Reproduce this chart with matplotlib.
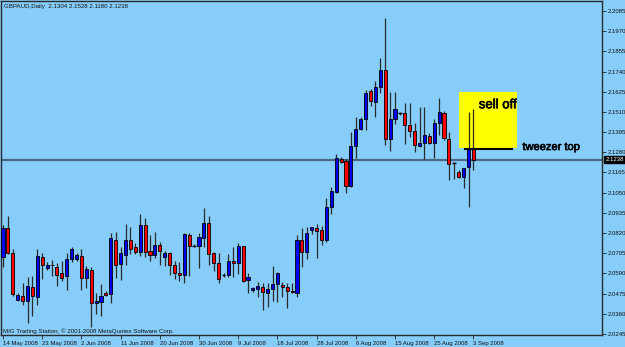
import matplotlib
matplotlib.use('Agg')
import matplotlib.pyplot as plt
import matplotlib.patheffects as pe
from matplotlib.patches import Rectangle

# GBPAUD daily bars, 14 May 2008 - 3 Sep 2008
opens = [2.0683, 2.0848, 2.0704, 2.0438, 2.0461, 2.0434, 2.0514, 2.0457, 2.0681, 2.0619,
         2.0637, 2.0624, 2.0594, 2.0575, 2.0670, 2.0670, 2.0689, 2.0562, 2.0609, 2.0419,
         2.0428, 2.0476, 2.0472, 2.0780, 2.0643, 2.0695, 2.0780, 2.0742, 2.0713, 2.0864,
         2.0719, 2.0693, 2.0750, 2.0685, 2.0708, 2.0638, 2.0594, 2.0581, 2.0810, 2.0744,
         2.0748, 2.0793, 2.0875, 2.0708, 2.0651, 2.0581, 2.0582, 2.0659, 2.0647, 2.0746,
         2.0552, 2.0495, 2.0501, 2.0514, 2.0480, 2.0501, 2.0529, 2.0524, 2.0514, 2.0491,
         2.0480, 2.0780, 2.0710, 2.0837, 2.0850, 2.0835, 2.0778, 2.0966, 2.1055, 2.1243,
         2.1232, 2.1088, 2.1316, 2.1411, 2.1468, 2.1631, 2.1568, 2.1654, 2.1749, 2.1354,
         2.1468, 2.1502, 2.1502, 2.1434, 2.1400, 2.1316, 2.1335, 2.1375, 2.1335, 2.1445,
         2.1506, 2.1356, 2.1217, 2.1169, 2.1141, 2.1194, 2.1304]
highs = [2.0866, 2.0917, 2.0729, 2.0478, 2.0537, 2.0569, 2.0575, 2.0727, 2.0708, 2.0656,
         2.0664, 2.0647, 2.0662, 2.0704, 2.0738, 2.0704, 2.0730, 2.0632, 2.0628, 2.0480,
         2.0529, 2.0491, 2.0822, 2.0827, 2.0742, 2.0871, 2.0852, 2.0761, 2.0928, 2.0904,
         2.0809, 2.0827, 2.0770, 2.0719, 2.0713, 2.0660, 2.0656, 2.0818, 2.0818, 2.0757,
         2.0822, 2.0961, 2.0917, 2.0713, 2.0704, 2.0594, 2.0700, 2.0742, 2.0761, 2.0748,
         2.0594, 2.0510, 2.0542, 2.0537, 2.0537, 2.0632, 2.0599, 2.0542, 2.0537, 2.0533,
         2.0809, 2.0847, 2.0856, 2.0856, 2.0871, 2.0860, 2.1018, 2.1084, 2.1270, 2.1255,
         2.1243, 2.1397, 2.1479, 2.1479, 2.1635, 2.1639, 2.1686, 2.1816, 2.2043, 2.1625,
         2.1625, 2.1510, 2.1559, 2.1563, 2.1445, 2.1540, 2.1540, 2.1388, 2.1468, 2.1588,
         2.1517, 2.1396, 2.1226, 2.1179, 2.1192, 2.1511, 2.1528]
lows = [2.0626, 2.0700, 2.0461, 2.0432, 2.0410, 2.0309, 2.0349, 2.0410, 2.0556, 2.0609,
        2.0575, 2.0518, 2.0546, 2.0495, 2.0656, 2.0662, 2.0495, 2.0505, 2.0286, 2.0358,
        2.0347, 2.0461, 2.0419, 2.0562, 2.0552, 2.0638, 2.0700, 2.0700, 2.0689, 2.0681,
        2.0662, 2.0677, 2.0638, 2.0632, 2.0581, 2.0556, 2.0548, 2.0537, 2.0575, 2.0738,
        2.0619, 2.0742, 2.0638, 2.0602, 2.0537, 2.0571, 2.0571, 2.0571, 2.0586, 2.0542,
        2.0476, 2.0485, 2.0455, 2.0381, 2.0396, 2.0434, 2.0428, 2.0455, 2.0390, 2.0476,
        2.0455, 2.0628, 2.0670, 2.0814, 2.0675, 2.0750, 2.0769, 2.0928, 2.1050, 2.1217,
        2.1050, 2.1084, 2.1246, 2.1407, 2.1407, 2.1544, 2.1479, 2.1616, 2.1321, 2.1289,
        2.1441, 2.1494, 2.1327, 2.1369, 2.1283, 2.1312, 2.1240, 2.1327, 2.1246, 2.1378,
        2.1350, 2.1122, 2.1126, 2.1132, 2.1075, 2.0966, 2.1180]
closes = [2.0848, 2.0708, 2.0471, 2.0465, 2.0434, 2.0518, 2.0461, 2.0689, 2.0636, 2.0636,
          2.0636, 2.0579, 2.0565, 2.0670, 2.0727, 2.0693, 2.0562, 2.0613, 2.0419, 2.0434,
          2.0461, 2.0465, 2.0791, 2.0638, 2.0704, 2.0780, 2.0730, 2.0713, 2.0867, 2.0713,
          2.0693, 2.0750, 2.0719, 2.0708, 2.0638, 2.0590, 2.0579, 2.0812, 2.0748, 2.0744,
          2.0797, 2.0878, 2.0700, 2.0651, 2.0556, 2.0581, 2.0659, 2.0647, 2.0746, 2.0548,
          2.0569, 2.0505, 2.0520, 2.0484, 2.0501, 2.0528, 2.0594, 2.0510, 2.0491, 2.0484,
          2.0780, 2.0710, 2.0818, 2.0852, 2.0833, 2.0778, 2.0970, 2.1059, 2.1246, 2.1226,
          2.1088, 2.1316, 2.1413, 2.1468, 2.1620, 2.1574, 2.1654, 2.1749, 2.1354, 2.1468,
          2.1528, 2.1502, 2.1434, 2.1400, 2.1320, 2.1335, 2.1377, 2.1335, 2.1445, 2.1510,
          2.1360, 2.1211, 2.1217, 2.1137, 2.1189, 2.1297, 2.1238]

date_labels = ['14 May 2008', '23 May 2008', '2 Jun 2008', '11 Jun 2008', '20 Jun 2008',
               '30 Jun 2008', '9 Jul 2008', '18 Jul 2008', '28 Jul 2008', '6 Aug 2008',
               '15 Aug 2008', '25 Aug 2008', '3 Sep 2008']
price_ticks = [2.0245, 2.0360, 2.0475, 2.0590, 2.0705, 2.0820, 2.0935, 2.1050, 2.1165,
               2.1280, 2.1395, 2.1510, 2.1625, 2.1740, 2.1855, 2.1970, 2.2085]
last_price = 2.1238
header = 'GBPAUD,Daily  2.1304 2.1528 2.1180 2.1238'

plt.rcParams['font.family'] = ['Liberation Sans', 'DejaVu Sans']
bg = '#87CDFA'

fig = plt.figure(figsize=(6.25, 3.47), dpi=100, facecolor=bg)
ax = fig.add_axes([1 / 625, 12 / 347, 601 / 625, 334 / 347])
ax.set_facecolor(bg)

# candles
for i in range(len(opens)):
    o, h, l, c = opens[i], highs[i], lows[i], closes[i]
    ax.vlines(i, l, h, color='#2a2a2a', lw=0.9, zorder=3)
    if o == c:
        ax.hlines(o, i - 0.35, i + 0.35, color='black', lw=1.0, zorder=4)
    else:
        col = '#0000F0' if c > o else '#FF0000'
        ax.bar(i, abs(c - o), bottom=min(o, c), width=0.64, color=col,
               edgecolor='black', lw=0.6, zorder=4)

# current price line
ax.axhline(last_price, color='#4b6a82', lw=1.6, zorder=2)

# annotations
thick = [pe.withStroke(linewidth=0.45, foreground='black')]
ax.add_patch(Rectangle((93.0, 2.1306), 11.95, 0.0316, facecolor='#FFFF00',
                       edgecolor='none', zorder=1))
ax.hlines(2.1297, 94.1, 104.1, color='black', lw=1.5, zorder=5)
ax.text(97.1, 2.1531, 'sell off', fontsize=9.5, va='baseline', ha='left', zorder=6,
        path_effects=thick)
ax.text(106.0, 2.1293, 'tweezer top', fontsize=8, va='baseline', ha='left', zorder=6,
        path_effects=thick)

ax.set_xlim(-0.41, 122.24)
ax.set_ylim(2.0239, 2.2142)

ax.yaxis.tick_right()
ax.set_yticks(price_ticks)
ax.set_yticklabels(['%.4f' % p for p in price_ticks])
ax.set_xticks(range(0, 8 * len(date_labels), 8))
ax.set_xticklabels(date_labels, ha='left')
ax.tick_params(axis='both', length=3, width=0.6, color='#222222', labelsize=4.3,
               pad=1, labelcolor='#111111')

for s in ax.spines.values():
    s.set_color('#2a2a2a')
    s.set_linewidth(1.0)

ax.annotate('%.4f' % last_price, xy=(1, last_price), xycoords=('axes fraction', 'data'),
            xytext=(2.5, 0), textcoords='offset points', ha='left', va='center',
            fontsize=4.3, color='white', annotation_clip=False,
            bbox=dict(facecolor='black', edgecolor='black', pad=0.8))

fig.text(4 / 625, 1 - 6.5 / 347, header, fontsize=4.4, va='center', ha='left', color='#111111')
fig.text(3 / 625, 1 - 331.5 / 347, 'MIG Trading Station, \u00a9 2001-2008 MetaQuotes Software Corp.',
         fontsize=4.4, va='center', ha='left', color='#111111')

fig.savefig('out.png', dpi=100, facecolor=bg)
